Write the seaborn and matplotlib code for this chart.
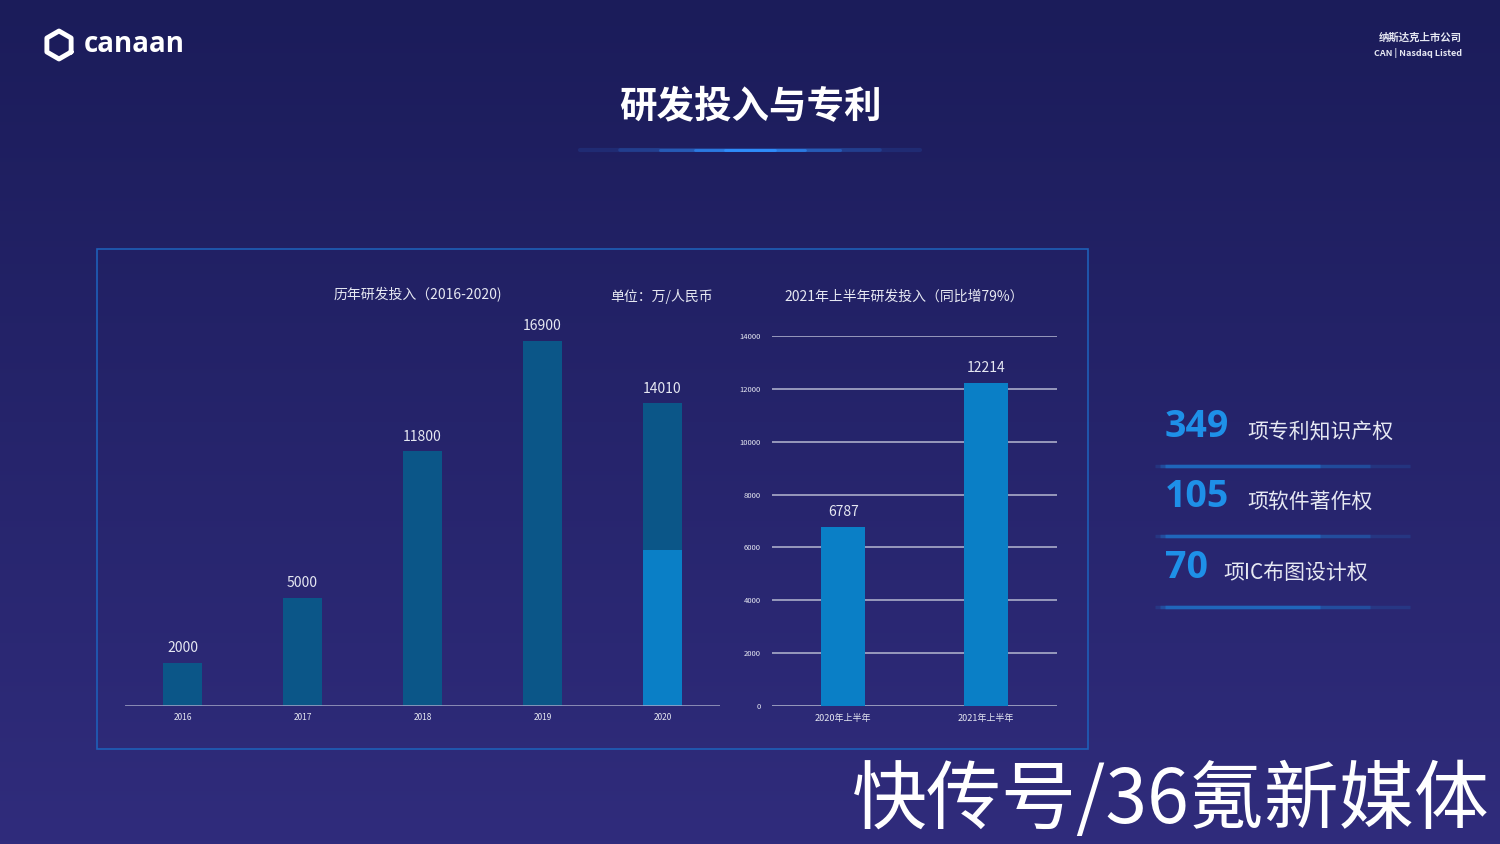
import numpy as np
import pandas as pd
import matplotlib.pyplot as plt
import seaborn as sns
from matplotlib.patches import Rectangle

# ────────────────────────────────────────────────
# DATA
# ────────────────────────────────────────────────
years = ['2016', '2017', '2018', '2019', '2020']
rd_total = [2000, 5000, 11800, 16900, 14010]
rd_2020_lower = [0, 0, 0, 0, 7223]          # lighter segment of the 2020 bar

half_labels = ['2020年上半年', '2021年上半年']
half_values = [6787, 12214]
half_ticks = [0, 2000, 4000, 6000, 8000, 10000, 12000, 14000]

patent_nums = ['349', '105', '70']
patent_texts = ['项专利知识产权', '项软件著作权', '项IC布图设计权']

# ────────────────────────────────────────────────
# STYLE
# ────────────────────────────────────────────────
sns.set_style('white')
plt.rcParams['font.family'] = ['Noto Sans CJK SC', 'DejaVu Sans']

DARK_BAR = '#0b5688'
LIGHT_BAR = '#0a7fc6'
TXT = '#e6e8f2'

W, H = 1500, 844
fig = plt.figure(figsize=(15, 8.44), dpi=100)

# background gradient
bg = fig.add_axes([0, 0, 1, 1], zorder=-10)
grad = np.linspace(0, 1, 256).reshape(-1, 1)
top = np.array([0x1b, 0x1c, 0x5a]) / 255
bot = np.array([0x30, 0x2c, 0x7c]) / 255
img = top + (bot - top) * grad[..., None]
bg.imshow(np.repeat(img, 2, axis=1), aspect='auto', extent=[0, W, H, 0])
bg.set_xlim(0, W)
bg.set_ylim(H, 0)
bg.axis('off')

# panel frame
bg.add_patch(Rectangle((97, 249), 991, 500, fill=False, ec='#1e5fb8', lw=1.2))

# title and glow line
bg.text(750, 107, '研发投入与专利', color='white', fontsize=27, fontweight='bold',
        ha='center', va='center')
for hw, a, lw in [(170, 0.12, 3), (130, 0.2, 2.6), (90, 0.35, 2.2), (55, 0.6, 2), (25, 0.9, 2)]:
    bg.plot([750 - hw, 750 + hw], [150, 150], color='#2f8fff', lw=lw,
            alpha=a, solid_capstyle='round')

# logo
ang = np.linspace(np.pi / 6, 2 * np.pi + np.pi / 6, 7)
bg.plot(59 + 14 * np.cos(ang), 45 + 14 * np.sin(ang), color='white', lw=3.5)
bg.text(84, 45, 'canaan', color='white', fontsize=20, fontweight='bold', va='center',
        family=['Open Sans', 'DejaVu Sans'])

# top right label
bg.text(1462, 38, '纳斯达克上市公司', color=TXT, fontsize=7.5, fontweight='bold',
        ha='right', va='center')
bg.text(1462, 53, 'CAN | Nasdaq Listed', color=TXT, fontsize=6.5, fontweight='bold',
        ha='right', va='center')

# chart titles
bg.text(418, 295, '历年研发投入（2016-2020)', color=TXT, fontsize=10, ha='center', va='center')
bg.text(662, 297, '单位：万/人民币', color=TXT, fontsize=10, ha='center', va='center')
bg.text(904, 297, '2021年上半年研发投入（同比增79%）', color=TXT, fontsize=10,
        ha='center', va='center')

# ────────────────────────────────────────────────
# LEFT CHART: 2016-2020
# ────────────────────────────────────────────────
ax1 = fig.add_axes([125 / W, 1 - 706 / H, 595 / W, 370 / H])
df1 = pd.DataFrame({'year': years, 'total': rd_total, 'lower': rd_2020_lower})
sns.barplot(data=df1, x='year', y='total', color=DARK_BAR, width=0.32,
            saturation=1, linewidth=0, ax=ax1)
sns.barplot(data=df1, x='year', y='lower', color=LIGHT_BAR, width=0.32,
            saturation=1, linewidth=0, ax=ax1)
for i, v in enumerate(rd_total):
    ax1.text(i, v + 350, str(v), color=TXT, fontsize=10, fontweight='medium',
             ha='center', va='bottom')
ax1.set_xlim(-0.48, 4.48)
ax1.set_ylim(0, 17131)
ax1.set_facecolor('none')
for s in ax1.spines.values():
    s.set_visible(False)
ax1.axhline(0, color='#a6a8c8', lw=1.8)
ax1.set_yticks([])
ax1.set_xlabel('')
ax1.set_ylabel('')
ax1.tick_params(axis='x', length=0, colors=TXT, labelsize=6, pad=5)

# ────────────────────────────────────────────────
# RIGHT CHART: 2021 H1
# ────────────────────────────────────────────────
ax2 = fig.add_axes([772 / W, 1 - 706 / H, 285 / W, 370 / H])
df2 = pd.DataFrame({'period': half_labels, 'value': half_values})
sns.barplot(data=df2, x='period', y='value', color=LIGHT_BAR, width=0.31,
            saturation=1, linewidth=0, ax=ax2, zorder=3)
for i, v in enumerate(half_values):
    ax2.text(i, v + 300, str(v), color=TXT, fontsize=10, fontweight='medium',
             ha='center', va='bottom')
ax2.set_xlim(-0.5, 1.5)
ax2.set_ylim(0, 14000)
ax2.set_yticks(half_ticks)
ax2.set_yticklabels([str(t) for t in half_ticks])
for t in half_ticks:
    ax2.axhline(t, color='#a0a2c2', lw=1.3, zorder=1)
ax2.set_facecolor('none')
for s in ax2.spines.values():
    s.set_visible(False)
ax2.set_xlabel('')
ax2.set_ylabel('')
ax2.tick_params(axis='y', length=0, colors=TXT, labelsize=5.5, pad=8)
ax2.tick_params(axis='x', length=0, colors=TXT, labelsize=6.5, pad=6)

# ────────────────────────────────────────────────
# PATENT STATS
# ────────────────────────────────────────────────
ys = [427, 497, 568]
for y, n, t in zip(ys, patent_nums, patent_texts):
    bg.text(1165, y, n, color='#1e90e8', fontsize=27, fontweight='bold',
            va='center', ha='left', family=['Open Sans', 'DejaVu Sans'])
    nx = 1165 + len(n) * 24 + 10
    bg.text(nx, y + 5, t, color=TXT, fontsize=15, va='center', ha='left')
    for x0, x1, a in [(1155, 1410, 0.2), (1160, 1370, 0.35), (1165, 1320, 0.6)]:
        bg.plot([x0, x1], [y + 39, y + 39], color='#1e78d0', lw=2.5, alpha=a,
                solid_capstyle='butt')

# watermark
bg.text(1490, 802, '快传号/36氪新媒体', color='white', fontsize=54, fontweight='medium',
        ha='right', va='center')

fig.savefig('out.png', dpi=100)
